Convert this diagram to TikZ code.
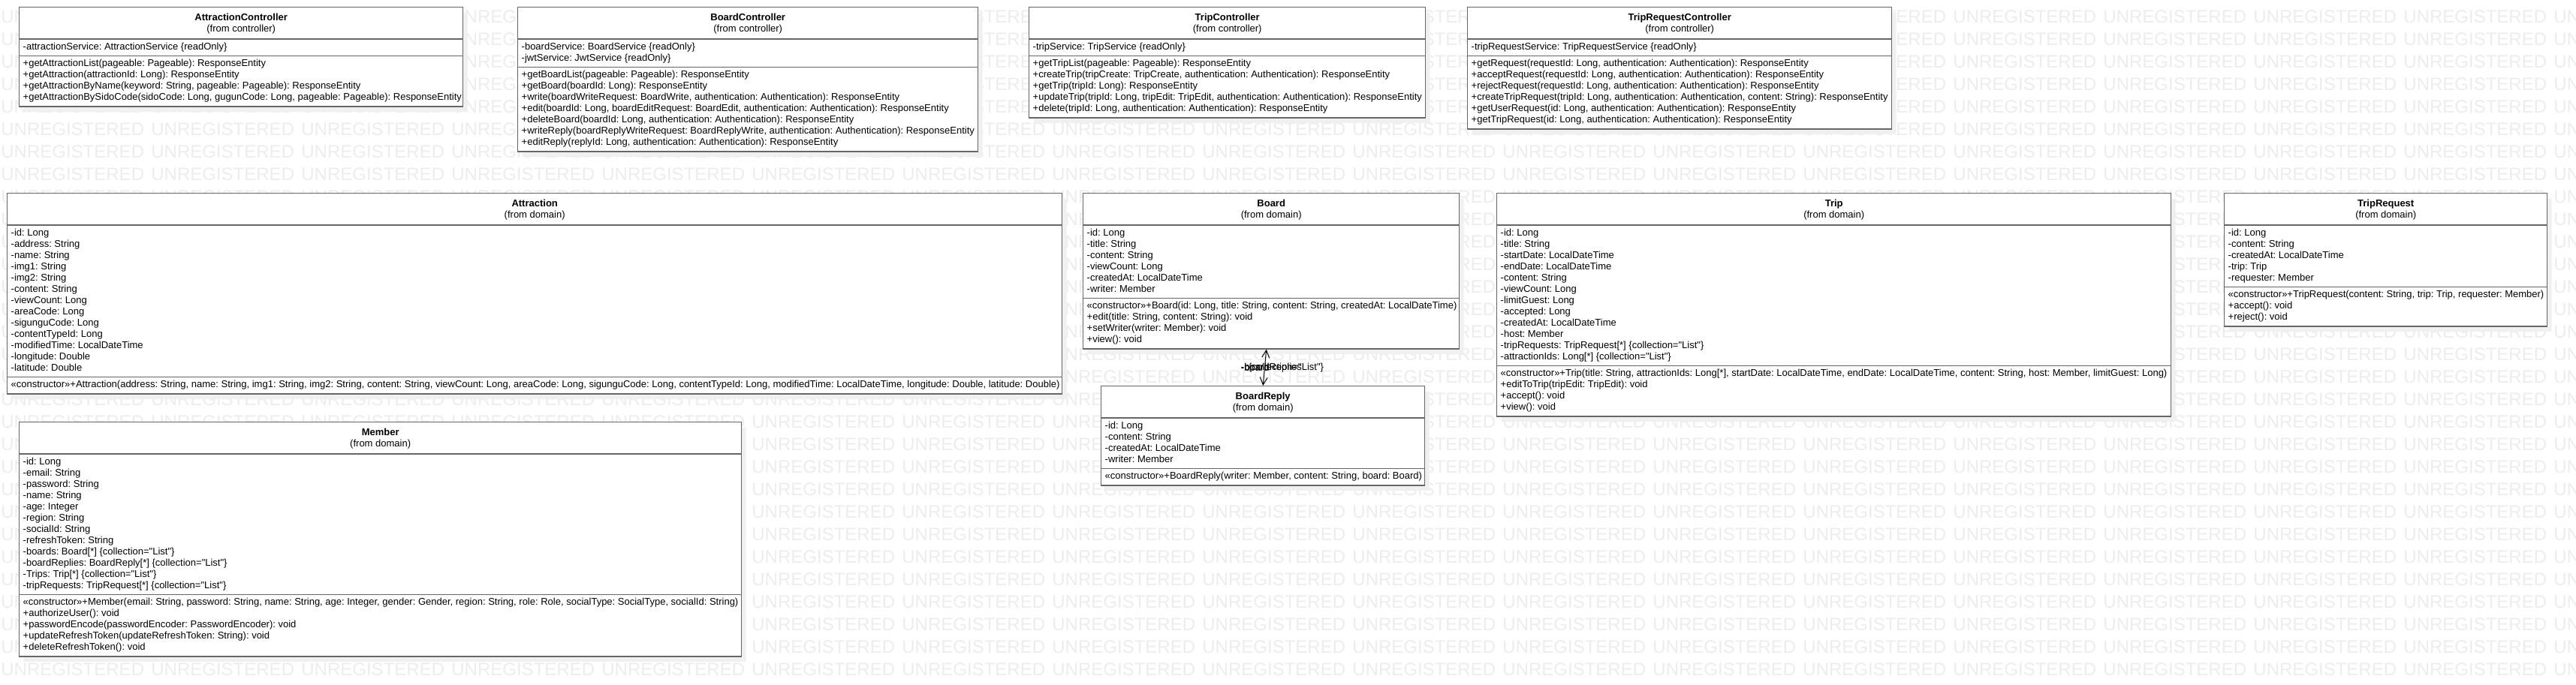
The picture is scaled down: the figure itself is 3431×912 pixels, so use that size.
\documentclass[tikz,border=0pt]{standalone}
\usepackage{fontspec}
\setmainfont{Liberation Sans}[Ligatures=TeXOff]
\usetikzlibrary{shapes.multipart,arrows.meta,shadows}

\newlength{\classw}
\newcommand{\umlfont}{\fontsize{6.5pt}{7.5pt}\selectfont\frenchspacing}
% title compartment: name and package
\newcommand{\hdr}[2]{\makebox[\classw]{\begin{tabular}{@{}c@{}}\rule{0pt}{7.25pt}\textbf{#1}\\(from #2)\rule[-2.75pt]{0pt}{0pt}\end{tabular}}}
% attribute or operation compartment
\newcommand{\rows}[1]{\makebox[\classw][l]{\begin{tabular}{@{}l@{}}#1\end{tabular}}}

\begin{document}
\begin{tikzpicture}[x=0.5pt, y=-0.5pt,
    >={Straight Barb[length=5pt,width=5pt]},
    umlclass/.style={rectangle split, rectangle split parts=3,
        draw=black!60, line width=0.7pt, fill=white, anchor=north west,
        inner xsep=2.5pt, inner ysep=1.5pt, font=\umlfont,
        drop shadow={shadow xshift=3pt, shadow yshift=-3.5pt, fill=black!6, opacity=1}},
    cw/.code={\setlength{\classw}{#1}},
    wmark/.style={anchor=west, inner sep=0pt, text=black!7,
        font=\fontsize{12pt}{12pt}\selectfont},
    role/.style={inner sep=0pt, font=\umlfont},
    assoc/.style={<->, line width=0.5pt}]
    \useasboundingbox (0,0) rectangle (3431,912);
    \fill[white] (0,0) rectangle (3431,912);

    % watermark
    \foreach \r in {0,...,29}
        \foreach \c in {0,...,17}
            \node[wmark] (wm-\r-\c) at (1+200*\c, 22+30*\r) {UNREGISTERED};

    % controllers
    \node[umlclass, cw=290.5pt] (actrl) at (25,9) {\hdr{AttractionController}{controller}%
        \nodepart{two}\rows{-attractionService: AttractionService \{readOnly\}}%
        \nodepart{three}\rows{+getAttractionList(pageable: Pageable): ResponseEntity\\
            +getAttraction(attractionId: Long): ResponseEntity\\
            +getAttractionByName(keyword: String, pageable: Pageable): ResponseEntity\\
            +getAttractionBySidoCode(sidoCode: Long, gugunCode: Long, pageable: Pageable): ResponseEntity}};

    \node[umlclass, cw=301.5pt] (bctrl) at (689,9) {\hdr{BoardController}{controller}%
        \nodepart{two}\rows{-boardService: BoardService \{readOnly\}\\
            -jwtService: JwtService \{readOnly\}}%
        \nodepart{three}\rows{+getBoardList(pageable: Pageable): ResponseEntity\\
            +getBoard(boardId: Long): ResponseEntity\\
            +write(boardWriteRequest: BoardWrite, authentication: Authentication): ResponseEntity\\
            +edit(boardId: Long, boardEditRequest: BoardEdit, authentication: Authentication): ResponseEntity\\
            +deleteBoard(boardId: Long, authentication: Authentication): ResponseEntity\\
            +writeReply(boardReplyWriteRequest: BoardReplyWrite, authentication: Authentication): ResponseEntity\\
            +editReply(replyId: Long, authentication: Authentication): ResponseEntity}};

    \node[umlclass, cw=259pt] (tctrl) at (1370,9) {\hdr{TripController}{controller}%
        \nodepart{two}\rows{-tripService: TripService \{readOnly\}}%
        \nodepart{three}\rows{+getTripList(pageable: Pageable): ResponseEntity\\
            +createTrip(tripCreate: TripCreate, authentication: Authentication): ResponseEntity\\
            +getTrip(tripId: Long): ResponseEntity\\
            +updateTrip(tripId: Long, tripEdit: TripEdit, authentication: Authentication): ResponseEntity\\
            +delete(tripId: Long, authentication: Authentication): ResponseEntity}};

    \node[umlclass, cw=277.5pt] (trctrl) at (1954,9) {\hdr{TripRequestController}{controller}%
        \nodepart{two}\rows{-tripRequestService: TripRequestService \{readOnly\}}%
        \nodepart{three}\rows{+getRequest(requestId: Long, authentication: Authentication): ResponseEntity\\
            +acceptRequest(requestId: Long, authentication: Authentication): ResponseEntity\\
            +rejectRequest(requestId: Long, authentication: Authentication): ResponseEntity\\
            +createTripRequest(tripId: Long, authentication: Authentication, content: String): ResponseEntity\\
            +getUserRequest(id: Long, authentication: Authentication): ResponseEntity\\
            +getTripRequest(id: Long, authentication: Authentication): ResponseEntity}};

    % domain
    \node[umlclass, cw=697.5pt] (attraction) at (9,257) {\hdr{Attraction}{domain}%
        \nodepart{two}\rows{-id: Long\\ -address: String\\ -name: String\\ -img1: String\\
            -img2: String\\ -content: String\\ -viewCount: Long\\ -areaCode: Long\\
            -sigunguCode: Long\\ -contentTypeId: Long\\ -modifiedTime: LocalDateTime\\
            -longitude: Double\\ -latitude: Double}%
        \nodepart{three}\rows{«constructor»+Attraction(address: String, name: String, img1: String, img2: String, content: String, viewCount: Long, areaCode: Long, sigunguCode: Long, contentTypeId: Long, modifiedTime: LocalDateTime, longitude: Double, latitude: Double)}};

    \node[umlclass, cw=245.5pt] (board) at (1442,257) {\hdr{Board}{domain}%
        \nodepart{two}\rows{-id: Long\\ -title: String\\ -content: String\\ -viewCount: Long\\
            -createdAt: LocalDateTime\\ -writer: Member}%
        \nodepart{three}\rows{«constructor»+Board(id: Long, title: String, content: String, createdAt: LocalDateTime)\\
            +edit(title: String, content: String): void\\
            +setWriter(writer: Member): void\\
            +view(): void}};

    \node[umlclass, cw=210.5pt] (boardreply) at (1466,514) {\hdr{BoardReply}{domain}%
        \nodepart{two}\rows{-id: Long\\ -content: String\\ -createdAt: LocalDateTime\\ -writer: Member}%
        \nodepart{three}\rows{«constructor»+BoardReply(writer: Member, content: String, board: Board)}};

    \node[umlclass, cw=444pt] (trip) at (1993,257) {\hdr{Trip}{domain}%
        \nodepart{two}\rows{-id: Long\\ -title: String\\ -startDate: LocalDateTime\\ -endDate: LocalDateTime\\
            -content: String\\ -viewCount: Long\\ -limitGuest: Long\\ -accepted: Long\\
            -createdAt: LocalDateTime\\ -host: Member\\
            -tripRequests: TripRequest[*] \{collection="List"\}\\
            -attractionIds: Long[*] \{collection="List"\}}%
        \nodepart{three}\rows{«constructor»+Trip(title: String, attractionIds: Long[*], startDate: LocalDateTime, endDate: LocalDateTime, content: String, host: Member, limitGuest: Long)\\
            +editToTrip(tripEdit: TripEdit): void\\
            +accept(): void\\
            +view(): void}};

    \node[umlclass, cw=210pt] (triprequest) at (2962,257) {\hdr{TripRequest}{domain}%
        \nodepart{two}\rows{-id: Long\\ -content: String\\ -createdAt: LocalDateTime\\ -trip: Trip\\ -requester: Member}%
        \nodepart{three}\rows{«constructor»+TripRequest(content: String, trip: Trip, requester: Member)\\
            +accept(): void\\
            +reject(): void}};

    \node[umlclass, cw=476pt] (member) at (25,562) {\hdr{Member}{domain}%
        \nodepart{two}\rows{-id: Long\\ -email: String\\ -password: String\\ -name: String\\
            -age: Integer\\ -region: String\\ -socialId: String\\ -refreshToken: String\\
            -boards: Board[*] \{collection="List"\}\\
            -boardReplies: BoardReply[*] \{collection="List"\}\\
            -Trips: Trip[*] \{collection="List"\}\\
            -tripRequests: TripRequest[*] \{collection="List"\}}%
        \nodepart{three}\rows{«constructor»+Member(email: String, password: String, name: String, age: Integer, gender: Gender, region: String, role: Role, socialType: SocialType, socialId: String)\\
            +authorizeUser(): void\\
            +passwordEncode(passwordEncoder: PasswordEncoder): void\\
            +updateRefreshToken(updateRefreshToken: String): void\\
            +deleteRefreshToken(): void}};

    % board <-> replies
    \draw[assoc] ([xshift=-3.25pt]board.south) -- (boardreply.north)
        node[role, pos=.5, anchor=west, xshift=-16pt] (rolea) {-board}
        node[role, pos=.5, anchor=west, xshift=-16pt] (roleb) {-boardReplies}
        node[role, pos=.5, anchor=east, xshift=39.5pt] (rolec) {\{collection="List"\}};
\end{tikzpicture}
\end{document}
